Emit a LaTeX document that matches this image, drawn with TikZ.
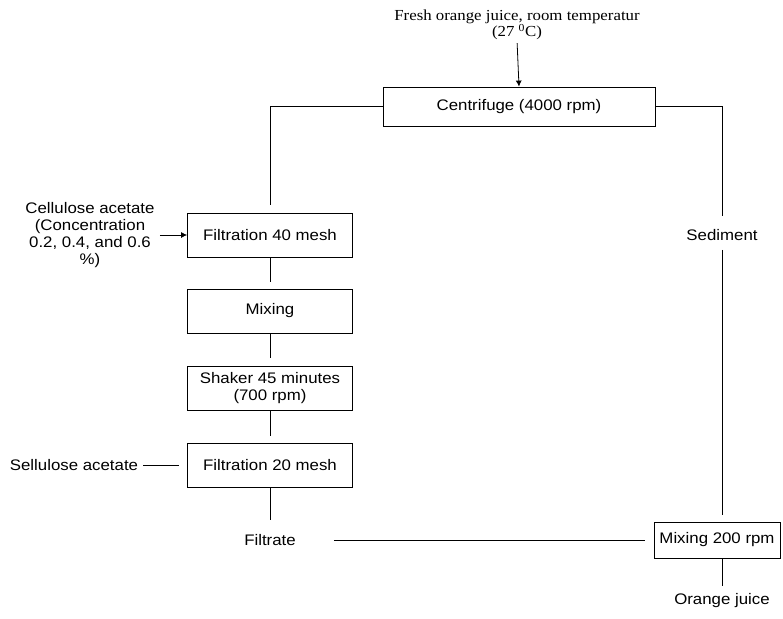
\documentclass[tikz,border=0pt]{standalone}
\usepackage{fontspec}
\setmainfont{Liberation Serif}[FakeStretch=1.1]
\setsansfont{Liberation Sans}[FakeStretch=1.1]
\usepackage{tikz}
\usetikzlibrary{arrows.meta}
\tikzset{stepbox/.style={draw, rectangle, line width=0.8pt, inner sep=0pt,
        minimum width=165pt, minimum height=44pt, align=center,
        font=\sffamily\fontsize{15.3}{17}\selectfont},
    plain/.style={draw=none, fill=none, inner sep=0pt, align=center,
        font=\sffamily\fontsize{15.3}{17}\selectfont},
    flow/.style={line width=0.8pt},
    feed/.style={flow, -{Latex[length=6pt, width=6pt]}}}

\begin{document}
\begin{tikzpicture}[x=1pt, y=-1pt]
    \useasboundingbox (0, 0) rectangle (783, 618);

    \node (fresh) at (517, 25) [plain, font=\rmfamily\fontsize{15.3}{16}\selectfont]
        {Fresh orange juice, room temperatur\\(27 \textsuperscript{0}C)};
    \node (cent) at (519, 106.5) [stepbox, minimum width=272pt, minimum height=39pt]
        {Centrifuge (4000 rpm)};

    \node (fil40) at (270, 235) [stepbox] {Filtration 40 mesh};
    \node (mix) at (270, 311) [stepbox] {Mixing};
    \node (shaker) at (270, 388.5) [stepbox] {Shaker 45 minutes\\(700 rpm)};
    \node (fil20) at (270, 465) [stepbox] {Filtration 20 mesh};
    \node (filtrate) at (270, 540) [plain] {Filtrate};

    \node (cellu) at (90, 235) [plain]
        {Cellulose acetate\\(Concentration\\0.2, 0.4, and 0.6\\\%)};
    \node (sellu) at (74, 465) [plain] {Sellulose acetate};

    \node (sed) at (722, 235) [plain] {Sediment};
    \node (mix200) at (717, 540) [stepbox, minimum width=126pt, minimum height=36pt]
        {Mixing 200 rpm};
    \node (juice) at (722, 601) [plain] {Orange juice};

    \draw[feed, shorten <=3pt] (fresh.south) -- (cent.north);
    \draw[flow, shorten >=8pt] (cent.west) -| (fil40.north);
    \draw[flow, shorten >=13pt] (cent.east) -| (sed.north);
    \draw[flow, shorten <=9pt, shorten >=7pt] (sed.south) -- (mix200.north -| sed.south);
    \draw[feed, shorten <=5pt] (cellu.east |- fil40.west) -- (fil40.west);
    \draw[flow, shorten <=5pt, shorten >=8pt] (sellu.east) -- (fil20.west);

    \draw[flow, shorten >=7pt] (fil40) -- (mix);
    \draw[flow, shorten >=8pt] (mix) -- (shaker);
    \draw[flow, shorten >=7pt] (shaker) -- (fil20);
    \draw[flow, shorten >=14pt] (fil20) -- (filtrate);
    \draw[flow, shorten <=38pt, shorten >=9pt] (filtrate.east) -- (mix200.west);
    \draw[flow, shorten >=8pt] (mix200.south -| juice.north) -- (juice.north);
\end{tikzpicture}
\end{document}
